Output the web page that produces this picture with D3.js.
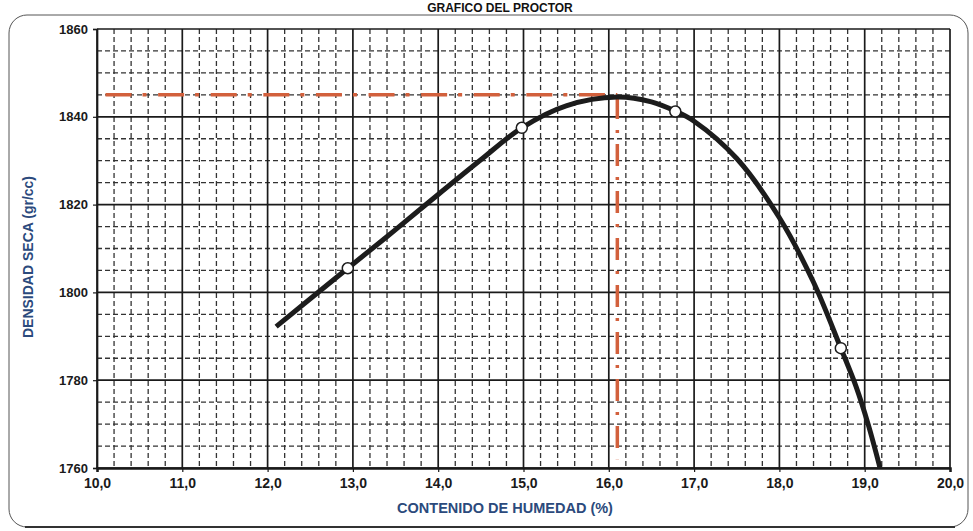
<!DOCTYPE html>
<html>
<head>
<meta charset="utf-8">
<script src="https://cdn.jsdelivr.net/npm/d3@7"></script>
<style>
  body{margin:0;background:#fff;}
  svg text{font-family:"Liberation Sans",Arial,sans-serif;font-weight:bold;}
</style>
</head>
<body>
<svg id="chart"></svg>
<script>
const humedad_ticks = [10,11,12,13,14,15,16,17,18,19,20];
const densidad_ticks = [1760,1780,1800,1820,1840,1860];
// curva de compactacion
const curva_humedad = [12.1,12.94,13.5,14.0,14.5,14.98,15.5,16.1,16.5,16.78,17.0,17.5,18.0,18.4,18.72,18.9,19.04,19.18];
const curva_densidad = [1792.2,1805.5,1814.3,1822.3,1830.2,1837.5,1842.5,1844.5,1843.4,1841.3,1839.0,1830.5,1817.0,1802.3,1787.3,1778.5,1770.0,1760];
// puntos del ensayo
const ensayo_humedad = [12.94,14.98,16.78,18.72];
const ensayo_densidad = [1805.5,1837.5,1841.2,1787.3];
const humedad_optima = 16.1;
const densidad_maxima = 1845;

const WIDTH = 973, HEIGHT = 531;
const RED = "#d2603c";
const BLUE = "#2b4a7c";

function set_size(selector, width, height){
  return selector.attr("width", width).attr("height", height);
}

const svg = d3.select("#chart").call(set_size, WIDTH, HEIGHT);

const x = d3.scaleLinear().domain([10,20]).range([97,950]);
const y = d3.scaleLinear().domain([1760,1860]).range([468,29]);

svg.append("rect")
  .attr("x",9).attr("y",15).call(set_size, 959, 512)
  .attr("rx",18)
  .attr("fill","none").attr("stroke","#555").attr("stroke-width",1);
svg.append("line")
  .attr("x1",25).attr("x2",955).attr("y1",527).attr("y2",527)
  .attr("stroke","#333").attr("stroke-width",2);

svg.append("text")
  .attr("x",500).attr("y",12)
  .attr("text-anchor","middle")
  .attr("font-size",12).attr("fill","#111")
  .text("GRAFICO DEL PROCTOR");

const grid = svg.append("g").attr("class","grid");

const minor_x = d3.range(10,20.001,0.2).filter(v => Math.abs(v - Math.round(v)) > 0.01);
const minor_y = d3.range(1760,1860.001,5).filter(v => v % 20 != 0);

grid.selectAll("line.vminor").data(minor_x).enter().append("line")
  .attr("class","vminor")
  .attr("x1",d => x(d)).attr("x2",d => x(d))
  .attr("y1",y(1860)).attr("y2",y(1760))
  .attr("stroke","#333").attr("stroke-width",1.3).attr("stroke-dasharray","5,3");

grid.selectAll("line.hminor").data(minor_y).enter().append("line")
  .attr("class","hminor")
  .attr("x1",x(10)).attr("x2",x(20))
  .attr("y1",d => y(d)).attr("y2",d => y(d))
  .attr("stroke","#333").attr("stroke-width",1.3).attr("stroke-dasharray","5,3");

grid.selectAll("line.vmajor").data(humedad_ticks).enter().append("line")
  .attr("class","vmajor")
  .attr("x1",d => x(d)).attr("x2",d => x(d))
  .attr("y1",y(1860)).attr("y2",y(1760))
  .attr("stroke","#1a1a1a").attr("stroke-width",1.7);

grid.selectAll("line.hmajor").data(densidad_ticks).enter().append("line")
  .attr("class","hmajor")
  .attr("x1",x(10)).attr("x2",x(20))
  .attr("y1",d => y(d)).attr("y2",d => y(d))
  .attr("stroke","#1a1a1a").attr("stroke-width",1.7);

const x_axis = svg.append("g")
  .attr("transform","translate(0," + y(1760) + ")")
  .call(d3.axisBottom(x).tickValues(humedad_ticks)
    .tickFormat(d => d3.format(".1f")(d).replace(".",","))
    .tickSize(4).tickPadding(6));
x_axis.select(".domain").attr("stroke","#1a1a1a").attr("stroke-width",2.5);

const y_axis = svg.append("g")
  .attr("transform","translate(" + x(10) + ",0)")
  .call(d3.axisLeft(y).tickValues(densidad_ticks).tickFormat(d3.format("d"))
    .tickSize(4).tickPadding(5));
y_axis.select(".domain").attr("stroke","#1a1a1a").attr("stroke-width",1.7);

svg.selectAll(".tick line").attr("stroke","#1a1a1a").attr("stroke-width",1.2);
svg.selectAll(".tick text")
  .attr("fill","#1a1a1a")
  .attr("font-family","'Liberation Sans',Arial,sans-serif")
  .attr("font-weight","bold");
x_axis.selectAll(".tick text").attr("font-size",14);
y_axis.selectAll(".tick text").attr("font-size",13);

svg.append("text")
  .attr("x",505).attr("y",513)
  .attr("text-anchor","middle")
  .attr("font-size",14.5).attr("fill",BLUE)
  .text("CONTENIDO DE HUMEDAD (%)");

svg.append("text")
  .attr("transform","translate(33,257) rotate(-90)")
  .attr("text-anchor","middle")
  .attr("font-size",14).attr("fill",BLUE)
  .text("DENSIDAD SECA (gr/cc)");

const guias = svg.append("g").attr("class","guias");
guias.append("line")
  .attr("x1",x(10.1)).attr("x2",x(humedad_optima))
  .attr("y1",y(densidad_maxima)).attr("y2",y(densidad_maxima))
  .attr("stroke",RED).attr("stroke-width",3.5)
  .attr("stroke-dasharray","26,11,4,11.6");
guias.append("line")
  .attr("x1",x(humedad_optima)).attr("x2",x(humedad_optima))
  .attr("y1",y(1844.5)).attr("y2",y(1762))
  .attr("stroke",RED).attr("stroke-width",3.5)
  .attr("stroke-dasharray","22,11,3,11");

const curva = curva_humedad.map((h,i) => [h, curva_densidad[i]]);
const line = d3.line()
  .x(d => x(d[0]))
  .y(d => y(d[1]))
  .curve(d3.curveCatmullRom.alpha(0.5));

svg.append("path")
  .datum(curva)
  .attr("d",line)
  .attr("fill","none")
  .attr("stroke","#1c1c1c")
  .attr("stroke-width",5)
  .attr("stroke-linecap","butt");

svg.selectAll("circle.ensayo")
  .data(ensayo_humedad.map((h,i) => [h, ensayo_densidad[i]]))
  .enter().append("circle")
  .attr("class","ensayo")
  .attr("cx",d => x(d[0])).attr("cy",d => y(d[1]))
  .attr("r",5.5)
  .attr("fill","#fff").attr("stroke","#1c1c1c").attr("stroke-width",1.5);
</script>
</body>
</html>
